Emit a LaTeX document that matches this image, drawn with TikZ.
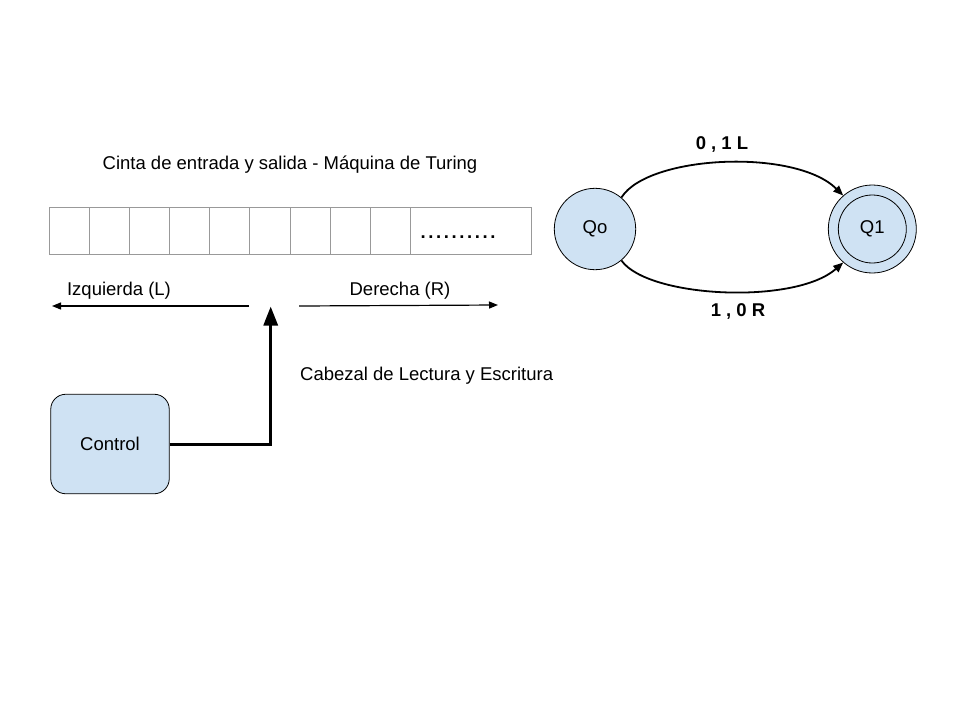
\documentclass[tikz,border=0pt]{standalone}
\usepackage{fontspec}
\setmainfont{Liberation Sans}
\usetikzlibrary{arrows.meta}
\definecolor{stfill}{HTML}{CFE2F3}
\definecolor{tapegray}{HTML}{999999}
\tikzset{
  txt/.style={font=\fontsize{18.5}{22}\selectfont, inner sep=0pt},
  btxt/.style={font=\fontsize{18.5}{22}\selectfont\bfseries, inner sep=0pt},
  cell/.style={draw=tapegray, line width=1pt, minimum height=47pt, inner sep=0pt, anchor=north west},
  state/.style={circle, draw=black, fill=stfill, line width=0.8pt, inner sep=0pt},
  thinarrow/.style={line width=1.2pt, -{Triangle[length=9pt,width=7pt]}},
  arcarrow/.style={line width=1.8pt, -{Triangle[length=10pt,width=8pt]}},
  thickarrow/.style={line width=3pt, -{Triangle[length=19pt,width=14pt]}},
}
\begin{document}
\begin{tikzpicture}[x=1pt,y=-1pt]
\useasboundingbox (0,0) rectangle (960,720);
% title
\node[txt] (title) at (290,165) {Cinta de entrada y salida - Máquina de Turing};
% tape
\node[cell, minimum width=40pt] (c1) at (49,207) {};
\node[cell, minimum width=40pt] (c2) at (89,207) {};
\node[cell, minimum width=40pt] (c3) at (129,207) {};
\node[cell, minimum width=40pt] (c4) at (169,207) {};
\node[cell, minimum width=40pt] (c5) at (209,207) {};
\node[cell, minimum width=41pt] (c6) at (249,207) {};
\node[cell, minimum width=40pt] (c7) at (290,207) {};
\node[cell, minimum width=40pt] (c8) at (330,207) {};
\node[cell, minimum width=40pt] (c9) at (370,207) {};
\node[cell, minimum width=121pt] (c10) at (410,207) {};
\node[btxt, anchor=west] (dots) at (420.5,237) {.\kern2.6pt.\kern2.6pt.\kern2.6pt.\kern2.6pt.\kern2.6pt.\kern2.6pt.\kern2.6pt.\kern2.6pt.\kern2.6pt.};
% direction arrows
\coordinate (lstart) at (249,306);
\coordinate (lend) at (52,306);
\coordinate (rstart) at (299,306);
\coordinate (rend) at (498,305);
\draw[thinarrow] (lstart) -- (lend);
\draw[thinarrow] (rstart) -- (rend);
\node[txt] (izq) at (119,291) {Izquierda (L)};
\node[txt] (der) at (400,291) {Derecha (R)};
% head
\coordinate (head) at (270.7,306.5);
\node[txt, anchor=west] (cab) at (300,376) {Cabezal de Lectura y Escritura};
% control
\node[draw=black, fill=stfill, line width=0.8pt, rounded corners=15pt, minimum width=118.5pt, minimum height=99.5pt, inner sep=0pt, txt] (ctrl) at (110,444) {Control};
\draw[thickarrow] (ctrl.east) -- (head |- ctrl.east) -- (head);
% state machine
\node[state, minimum size=81.4pt] (Qo) at (595,229) {};
\node[txt] at (Qo.center) {Qo};
\node[state, minimum size=88pt] (Q1) at (872.3,229) {};
\node[circle, draw=black, line width=0.8pt, minimum size=68pt, inner sep=0pt] (Q1in) at (Q1.center) {};
\node[txt] at (Q1.center) {Q1};
\draw[arcarrow] (Qo.50) .. controls (648,155) and (795,148) .. (Q1.131);
\draw[arcarrow] (Qo.-50) .. controls (648,298) and (795,305) .. (Q1.-131);
\node[btxt] (lab1) at (722,144) {0 , 1 L};
\node[btxt] (lab2) at (738,311) {1 , 0 R};
\end{tikzpicture}
\end{document}
